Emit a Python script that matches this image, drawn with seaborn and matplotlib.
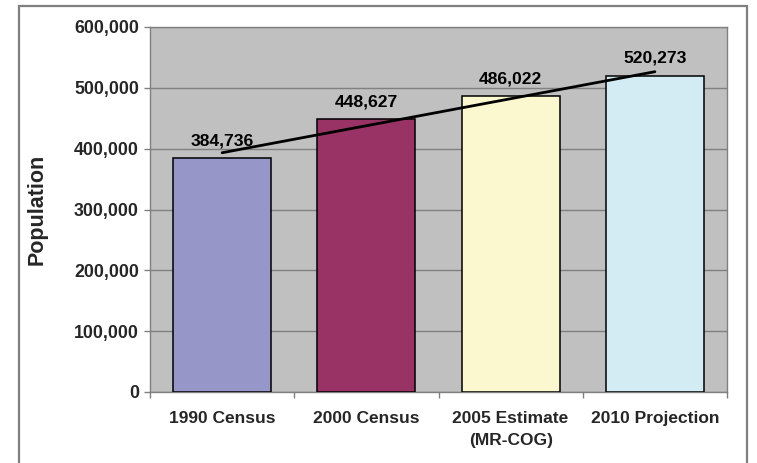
import numpy as np
import pandas as pd
import matplotlib
matplotlib.use("Agg")
import matplotlib.pyplot as plt
from matplotlib.patches import Rectangle
from matplotlib.ticker import FuncFormatter, FixedLocator
import seaborn as sns

categories = ["1990 Census", "2000 Census", "2005 Estimate\n(MR-COG)", "2010 Projection"]
population = [384736, 448627, 486022, 520273]
bar_colors = ["#9696C8", "#993366", "#FBF8D0", "#D3EBF2"]
y_ticks = [0, 100000, 200000, 300000, 400000, 500000, 600000]

sns.set_theme(style="white")
plt.rcParams["font.family"] = ["Liberation Sans", "DejaVu Sans"]
plt.rcParams["font.weight"] = "bold"

df = pd.DataFrame({"category": categories, "population": population})

fig = plt.figure(figsize=(7.57, 4.63), dpi=100)
ax = fig.add_axes([150 / 757, 1 - 392 / 463, 577 / 757, 365 / 463])

# outer frame around the chart
fig.add_artist(Rectangle((18.5 / 757, -0.1), (747 - 18.5) / 757, 1.1 - 5.5 / 463,
                         transform=fig.transFigure, fill=False,
                         edgecolor="#7F7F7F", linewidth=1.6))

ax.set_facecolor("#C0C0C0")
sns.barplot(data=df, x="category", y="population", hue="category",
            palette=bar_colors, legend=False, width=0.68,
            edgecolor="black", linewidth=1.1, saturation=1, ax=ax, zorder=3)

# linear trend across the four values
xs = np.arange(len(population))
slope, intercept = np.polyfit(xs, population, 1)
ax.plot([xs[0], xs[-1]], [intercept + slope * xs[0], intercept + slope * xs[-1]],
        color="black", linewidth=2, zorder=5)

for i, v in enumerate(population):
    ax.annotate(f"{v:,}", (i, v), xytext=(0, 7), textcoords="offset points",
                ha="center", va="bottom", fontsize=12.6, fontweight="bold",
                color="black", zorder=6)

ax.set_xlim(-0.5, len(categories) - 0.5)
ax.set_ylim(0, 600000)
ax.yaxis.set_major_locator(FixedLocator(y_ticks))
ax.yaxis.set_major_formatter(FuncFormatter(lambda v, p: f"{int(v):,}"))
ax.grid(axis="y", color="#808080", linewidth=1, zorder=0)
ax.set_axisbelow(True)

ax.xaxis.set_minor_locator(FixedLocator(np.arange(-0.5, len(categories), 1.0)))
ax.tick_params(axis="x", which="major", length=0, pad=14, labelsize=12.5)
ax.tick_params(axis="x", which="minor", length=4, color="#808080", width=1, bottom=True)
ax.tick_params(axis="y", length=4, color="#808080", width=1, left=True, pad=4, labelsize=12.8)
for lab in ax.get_xticklabels() + ax.get_yticklabels():
    lab.set_fontweight("bold")
for lab in ax.get_xticklabels():
    lab.set_linespacing(1.55)

for s in ax.spines.values():
    s.set_color("#808080")
    s.set_linewidth(1)

ax.set_xlabel("")
ax.set_ylabel("Population", fontsize=15.5, fontweight="bold", labelpad=19)

fig.savefig("out.png", dpi=100)
